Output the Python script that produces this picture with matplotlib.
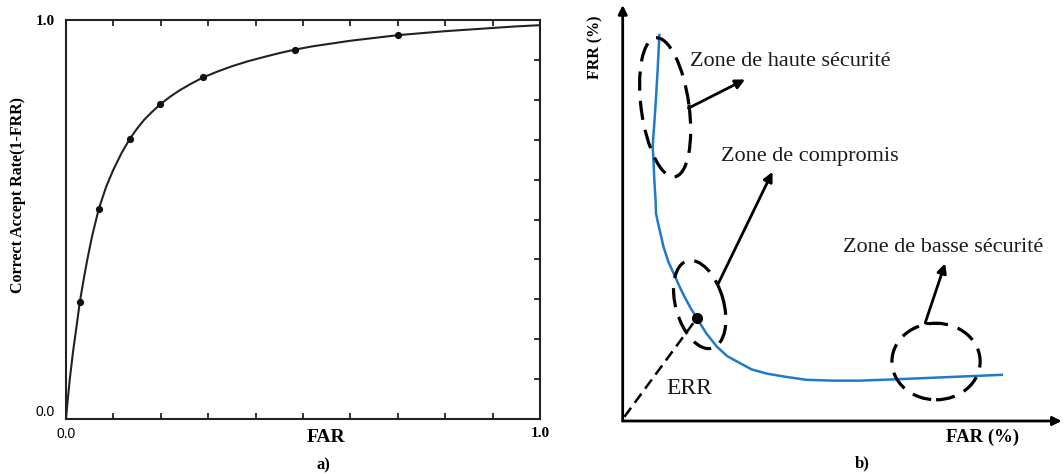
import matplotlib
matplotlib.use("Agg")
import matplotlib.pyplot as plt
from matplotlib.patches import Ellipse, FancyArrowPatch

# ---- Panel a): ROC curve (correct accept rate vs FAR) ----
roc_far = [0.0, 0.003, 0.008, 0.015, 0.022, 0.029, 0.037, 0.045, 0.055, 0.069,
           0.085, 0.100, 0.117, 0.134, 0.150, 0.165, 0.180, 0.199, 0.220, 0.240,
           0.265, 0.289, 0.320, 0.350, 0.385, 0.420, 0.450, 0.484, 0.520, 0.560,
           0.600, 0.650, 0.700, 0.750, 0.800, 0.850, 0.900, 0.950, 1.0]
roc_car = [0.0, 0.04, 0.10, 0.17, 0.23, 0.292, 0.348, 0.400, 0.458, 0.526,
           0.583, 0.625, 0.666, 0.701, 0.728, 0.750, 0.768, 0.789, 0.808, 0.824,
           0.841, 0.856, 0.871, 0.884, 0.897, 0.908, 0.917, 0.926, 0.934, 0.941,
           0.948, 0.955, 0.962, 0.967, 0.972, 0.976, 0.980, 0.984, 0.987]
marker_far = [0.029, 0.069, 0.134, 0.199, 0.289, 0.484, 0.700]
marker_car = [0.292, 0.526, 0.701, 0.789, 0.856, 0.926, 0.962]

# ---- Panel b): FRR vs FAR (arbitrary % units) ----
det_far = [8.8, 8.4, 7.9, 7.4, 7.2, 7.4, 7.6, 7.9, 8.0, 8.6, 9.8, 11.0, 12.6,
           13.8, 15.0, 16.4, 17.8, 20.0, 22.6, 25.1, 28.2, 31.0, 34.6, 39.3,
           44.2, 50.6, 57.0, 64.9, 77.0, 91.1]
det_frr = [92.8, 84.4, 76.0, 68.8, 65.9, 62.7, 57.9, 53.1, 49.9, 47.1, 41.9, 38.2,
           34.7, 32.0, 29.6, 27.0, 24.8, 21.2, 17.9, 15.6, 13.9, 12.4, 11.4, 10.6,
           9.9, 9.7, 9.7, 10.0, 10.5, 11.1]
err_far = 17.9
err_frr = 24.8

SERIF = "Liberation Serif"
SANS = "Liberation Sans"
BLUE = "#1f7ac8"

W, H = 1063, 476
fig = plt.figure(figsize=(W / 100, H / 100), dpi=100)
fig.patch.set_facecolor("white")


def frac_rect(x0, y0, x1, y1):
    return [x0 / W, 1 - y1 / H, (x1 - x0) / W, (y1 - y0) / H]


# ===================== a) =====================
ax = fig.add_axes(frac_rect(66, 20, 540, 419))
ax.plot(roc_far, roc_car, color="#222222", lw=1.5, zorder=3,
        solid_joinstyle="round")
ax.plot(marker_far, marker_car, ls="none", marker="o", ms=4.2,
        color="#111111", zorder=4)
ax.set_xlim(0, 1)
ax.set_ylim(0, 1)
for s in ax.spines.values():
    s.set_linewidth(1.5)
    s.set_color("#222222")

minor = [i / 10 for i in range(1, 10)]
ax.set_xticks([0, 1])
ax.set_yticks([0, 1])
ax.set_xticks(minor, minor=True)
ax.set_yticks(minor, minor=True)
ax.tick_params(which="major", length=0, pad=6)
ax.tick_params(which="minor", direction="in", length=4, width=1.3,
               color="#222222", bottom=True, top=True, left=False, right=True)
ax.set_xticklabels(["0.0", "1.0"])
ax.set_yticklabels(["0.0", "1.0"])
for lab in ax.get_xticklabels() + ax.get_yticklabels():
    if lab.get_text() == "0.0":
        lab.set_fontfamily(SANS)
        lab.set_fontsize(10)
    else:
        lab.set_fontfamily(SERIF)
        lab.set_fontweight("bold")
        lab.set_fontsize(11)
ax.tick_params(axis="y", pad=8)
ax.get_yticklabels()[0].set_va("bottom")

fig.text(18 / W, 1 - 195 / H, "Correct Accept Rate(1-FRR)", rotation=90,
         ha="center", va="center", fontfamily=SERIF, fontweight="bold",
         fontsize=11.5)
fig.text(326 / W, 1 - 437 / H, "FAR", ha="center", va="center",
         fontfamily=SERIF, fontweight="bold", fontsize=14)
fig.text(323 / W, 1 - 465 / H, "a)", ha="center", va="center",
         fontfamily=SERIF, fontweight="bold", fontsize=12)

# ===================== b) =====================
bx = fig.add_axes(frac_rect(622.7, 5, 1061.7, 421))
bx.set_xlim(0, 105.5)
bx.set_ylim(0, 100)
bx.axis("off")

axis_kw = dict(arrowstyle="-|>", mutation_scale=13, lw=2.0, color="black",
               shrinkA=0, shrinkB=0, clip_on=False)
bx.add_patch(FancyArrowPatch((0, 0), (0, 100), **axis_kw))
bx.add_patch(FancyArrowPatch((0, 0), (105.5, 0), **axis_kw))

bx.plot(det_far, det_frr, color=BLUE, lw=1.8, zorder=3, clip_on=False,
        solid_joinstyle="round")

# dashed guide from origin to the equal error point
bx.plot([0.4, err_far], [1.0, err_frr], color="black", lw=1.8,
        ls=(0, (4.5, 2.5)), zorder=4)
bx.plot([err_far], [err_frr], "o", color="black", ms=7, zorder=5)

ell_kw = dict(fill=False, ec="black", lw=2.3, ls=(0, (6, 3.2)), zorder=4)
bx.add_patch(Ellipse((10.2, 75.4), 33.7, 11.5, angle=97.8, **ell_kw))
bx.add_patch(Ellipse((18.5, 28.0), 21.8, 11.5, angle=106, **ell_kw))
bx.add_patch(Ellipse((75.3, 14.3), 21.2, 18.4, angle=0, **ell_kw))

arr_kw = dict(arrowstyle="-|>", mutation_scale=14, lw=2.0, color="black",
              shrinkA=0, shrinkB=0, zorder=5)
bx.add_patch(FancyArrowPatch((15.8, 75.2), (29.4, 82.1), **arr_kw))
bx.add_patch(FancyArrowPatch((23.0, 33.1), (36.0, 59.9), **arr_kw))
bx.plot([75.9, 72.7], [23.6, 23.6], color="black", lw=2.0,
        solid_capstyle="butt", zorder=5)
bx.add_patch(FancyArrowPatch((72.7, 23.6), (77.5, 37.9), **arr_kw))

txt_kw = dict(fontfamily=SERIF, fontsize=16, color="#1a1a1a", va="center",
              ha="left")
bx.text(16.2, 86.4, "Zone de haute sécurité", **txt_kw)
bx.text(23.6, 63.5, "Zone de compromis", **txt_kw)
bx.text(52.9, 41.8, "Zone de basse sécurité", **txt_kw)
bx.text(10.6, 7.9, "ERR", **dict(txt_kw, fontsize=17))

fig.text(595 / W, 1 - 47 / H, "FRR (%)", rotation=90, ha="center",
         va="center", fontfamily=SERIF, fontweight="bold", fontsize=11.5)
fig.text(983 / W, 1 - 437 / H, "FAR (%)", ha="center", va="center",
         fontfamily=SERIF, fontweight="bold", fontsize=13.5)
fig.text(862 / W, 1 - 463 / H, "b)", ha="center", va="center",
         fontfamily=SERIF, fontweight="bold", fontsize=12)

fig.savefig("out.png", dpi=100, facecolor="white")
